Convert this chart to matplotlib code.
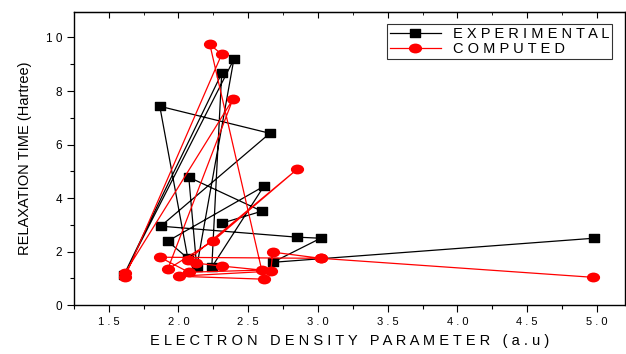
import numpy as np
import matplotlib
matplotlib.use("Agg")
import matplotlib.pyplot as plt
from matplotlib.path import Path
from matplotlib.transforms import Affine2D

plt.rcParams['font.family'] = ['Liberation Sans', 'DejaVu Sans']

# experimental points, in the order they are joined
exp_x = [4.979, 2.676, 3.02, 2.849, 1.873, 2.655, 1.866, 2.067, 1.923, 2.612,
         2.239, 2.31, 1.608, 2.397, 2.131, 2.074, 2.598, 2.31]
exp_y = [2.50, 1.60, 2.50, 2.54, 2.95, 6.42, 7.43, 1.75, 2.39, 4.44,
         1.42, 8.66, 1.12, 9.18, 1.42, 4.78, 3.51, 3.06]

# computed points, in the order they are joined
comp_x = [3.02, 2.676, 2.662, 2.002, 2.612, 2.225, 2.31, 1.615, 1.615, 2.39,
          1.923, 2.246, 2.849, 2.067, 2.124, 2.31, 2.598, 2.074, 1.866, 3.02, 4.972]
comp_y = [1.75, 1.98, 1.27, 1.08, 0.97, 9.74, 9.37, 1.04, 1.19, 7.69,
          1.34, 2.39, 5.07, 1.68, 1.57, 1.46, 1.31, 1.23, 1.79, 1.75, 1.04]

x_ticks = [1.5, 2.0, 2.5, 3.0, 3.5, 4.0, 4.5, 5.0]
y_ticks = [0, 2, 4, 6, 8, 10]


def spaced(text):
    # letter spacing like the original graph
    return " ".join(text)


# slightly wide markers (the original looks stretched)
ellipse = Path.unit_circle().transformed(Affine2D().scale(1.4, 1.0))
rect = Path([(-0.7, -0.5), (0.7, -0.5), (0.7, 0.5), (-0.7, 0.5), (-0.7, -0.5)],
            [Path.MOVETO, Path.LINETO, Path.LINETO, Path.LINETO, Path.CLOSEPOLY])

fig = plt.figure(figsize=(6.26, 3.54), dpi=100)
ax = fig.add_axes([0.118, 0.138, 0.88, 0.828])

ax.plot(exp_x, exp_y, color="black", lw=0.9, marker=rect, markersize=7.5,
        markerfacecolor="black", markeredgecolor="black", label=spaced("EXPERIMENTAL"))
ax.plot(comp_x, comp_y, color="red", lw=0.9, marker=ellipse, markersize=8.5,
        markerfacecolor="red", markeredgecolor="red", label=spaced("COMPUTED"))

ax.set_xlim(1.25, 5.2)
ax.set_ylim(0, 10.95)
ax.set_xticks(x_ticks)
ax.set_xticklabels([" ".join(f"{v:.1f}") for v in x_ticks], fontsize=8)
ax.set_xticks(np.arange(1.25, 5.21, 0.25), minor=True)
ax.set_yticks(y_ticks)
ax.set_yticklabels([" ".join(str(v)) for v in y_ticks], fontsize=8.5)
ax.set_yticks(np.arange(1, 11, 2), minor=True)

ax.tick_params(which="major", direction="out", length=5, width=0.8)
ax.tick_params(which="minor", direction="out", length=3, width=0.8)
for sp in ax.spines.values():
    sp.set_linewidth(1.0)

# inward ticks along the top edge
top = ax.secondary_xaxis("top")
top.set_xticks(x_ticks)
top.set_xticks(np.arange(1.25, 5.21, 0.25), minor=True)
top.tick_params(which="both", direction="in", labeltop=False)
top.tick_params(which="major", length=4)
top.tick_params(which="minor", length=2)

ax.set_xlabel(spaced("ELECTRON") + "   " + spaced("DENSITY") + "   " + spaced("PARAMETER")
              + "   " + spaced("(a.u)"), fontsize=10.5, labelpad=5)
ax.set_ylabel("RELAXATION TIME (Hartree)", fontsize=10.5, labelpad=10)

leg = ax.legend(loc="upper right", fontsize=10.5, frameon=True, fancybox=False,
                borderpad=0.2, handlelength=3.5, labelspacing=0.1,
                bbox_to_anchor=(0.99, 0.985))
leg.get_frame().set_edgecolor("black")
leg.get_frame().set_linewidth(0.8)

fig.savefig("out.png", dpi=100)
